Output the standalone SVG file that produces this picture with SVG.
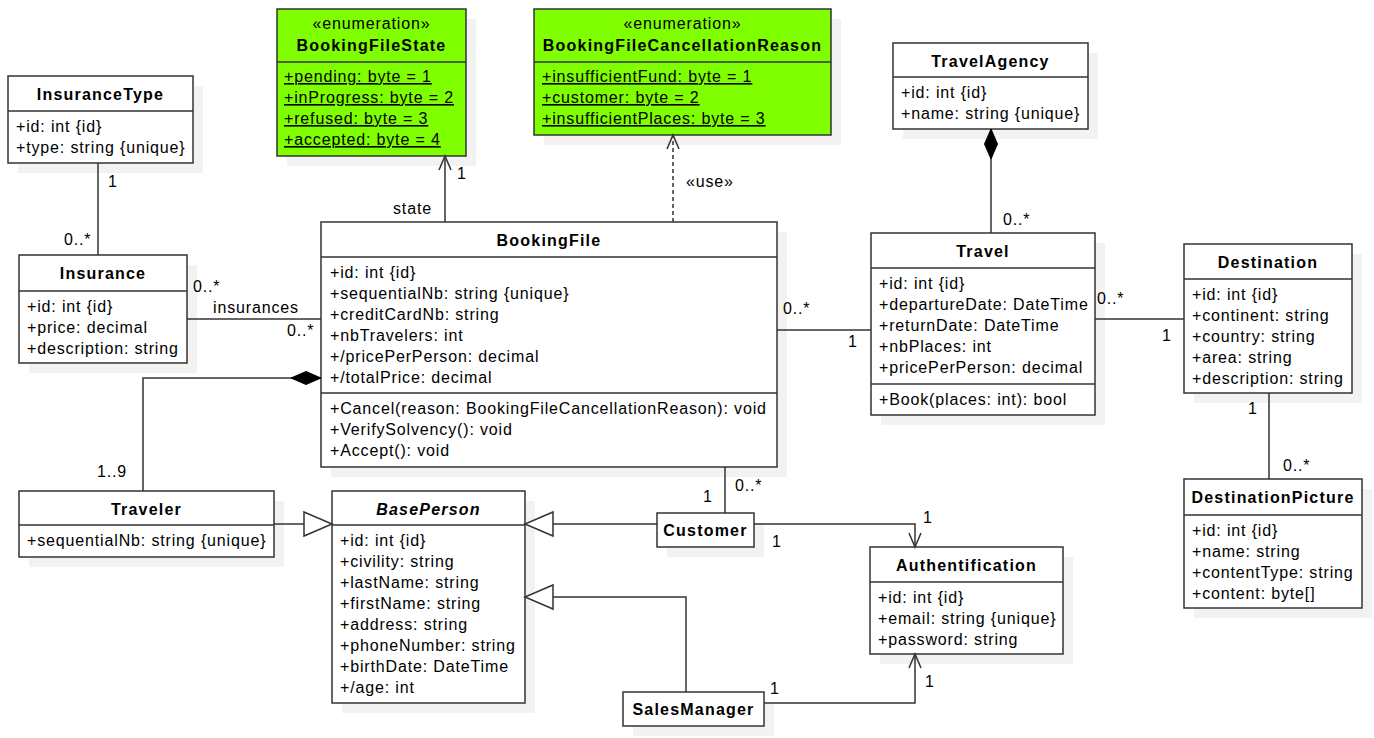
<svg xmlns="http://www.w3.org/2000/svg" width="1374" height="738" viewBox="0 0 1374 738">
<style>
.bg{fill:#fff}
.sh{fill:#f2f2f2}
.box{fill:#fff;stroke:#333;stroke-width:1.5}
.enum{fill:#80ff00;stroke:#333;stroke-width:1.5}
.div{stroke:#333;stroke-width:1.5}
text{font-family:"Liberation Sans",Arial,Helvetica,sans-serif;font-size:16px;fill:#000;letter-spacing:0.85px}
.ti{font-weight:bold;text-anchor:middle;letter-spacing:1.2px}
.it{font-style:italic}
.st{text-anchor:middle}
.u{text-decoration:underline}
.ln{stroke:#333;stroke-width:1.5;fill:none}
.dash{stroke-dasharray:4,3}
</style>
<defs>
<marker id="open" markerUnits="userSpaceOnUse" markerWidth="16" markerHeight="16" refX="14" refY="7" orient="auto" overflow="visible">
<path d="M0,1 L14,7 L0,13" fill="none" stroke="#333" stroke-width="1.5"/>
</marker>
<marker id="tri" markerUnits="userSpaceOnUse" markerWidth="30" markerHeight="26" refX="28" refY="12" orient="auto" overflow="visible">
<path d="M0,0 L28,12 L0,24 Z" fill="#fff" stroke="#333" stroke-width="1.5"/>
</marker>
<marker id="dia" markerUnits="userSpaceOnUse" markerWidth="32" markerHeight="14" refX="0" refY="6.5" orient="auto" overflow="visible">
<path d="M0,6.5 L15,0 L30,6.5 L15,13 Z" fill="#000" stroke="#000" stroke-width="1"/>
</marker>
</defs>
<rect class="bg" x="0" y="0" width="1374" height="738"/>

<g id="InsuranceType">
<rect class="sh" x="18" y="86" width="185" height="87"/>
<rect class="box" x="8" y="76" width="185" height="87"/>
<line class="div" x1="8" y1="111" x2="193" y2="111"/>
<text class="ti" x="100.5" y="100">InsuranceType</text>
<text x="16" y="132">+id: int {id}</text>
<text x="16" y="153">+type: string {unique}</text>
</g>

<g id="BookingFileState">
<rect class="sh" x="287" y="19" width="189" height="147"/>
<rect class="enum" x="277" y="9" width="189" height="147"/>
<line class="div" x1="277" y1="62" x2="466" y2="62"/>
<text class="st" x="371.5" y="29">«enumeration»</text>
<text class="ti" x="371.5" y="51">BookingFileState</text>
<text class="u" x="284" y="82">+pending: byte = 1</text>
<text class="u" x="284" y="103">+inProgress: byte = 2</text>
<text class="u" x="284" y="124">+refused: byte = 3</text>
<text class="u" x="284" y="145">+accepted: byte = 4</text>
</g>

<g id="BookingFileCancellationReason">
<rect class="sh" x="544" y="19" width="297" height="126"/>
<rect class="enum" x="534" y="9" width="297" height="126"/>
<line class="div" x1="534" y1="62" x2="831" y2="62"/>
<text class="st" x="682.5" y="29">«enumeration»</text>
<text class="ti" x="682.5" y="51">BookingFileCancellationReason</text>
<text class="u" x="542" y="82">+insufficientFund: byte = 1</text>
<text class="u" x="542" y="103">+customer: byte = 2</text>
<text class="u" x="542" y="124">+insufficientPlaces: byte = 3</text>
</g>

<g id="TravelAgency">
<rect class="sh" x="903" y="53" width="195" height="86"/>
<rect class="box" x="893" y="43" width="195" height="86"/>
<line class="div" x1="893" y1="77" x2="1088" y2="77"/>
<text class="ti" x="990.5" y="67">TravelAgency</text>
<text x="901" y="98">+id: int {id}</text>
<text x="901" y="119">+name: string {unique}</text>
</g>

<g id="Insurance">
<rect class="sh" x="29" y="265" width="168" height="108"/>
<rect class="box" x="19" y="255" width="168" height="108"/>
<line class="div" x1="19" y1="291" x2="187" y2="291"/>
<text class="ti" x="103" y="279">Insurance</text>
<text x="27" y="312">+id: int {id}</text>
<text x="27" y="333">+price: decimal</text>
<text x="27" y="354">+description: string</text>
</g>

<g id="BookingFile">
<rect class="sh" x="331" y="232" width="456" height="245"/>
<rect class="box" x="321" y="222" width="456" height="245"/>
<line class="div" x1="321" y1="257" x2="777" y2="257"/>
<line class="div" x1="321" y1="393" x2="777" y2="393"/>
<text class="ti" x="549" y="246">BookingFile</text>
<text x="330" y="278">+id: int {id}</text>
<text x="330" y="299">+sequentialNb: string {unique}</text>
<text x="330" y="320">+creditCardNb: string</text>
<text x="330" y="341">+nbTravelers: int</text>
<text x="330" y="362">+/pricePerPerson: decimal</text>
<text x="330" y="383">+/totalPrice: decimal</text>
<text x="330" y="414">+Cancel(reason: BookingFileCancellationReason): void</text>
<text x="330" y="435">+VerifySolvency(): void</text>
<text x="330" y="456">+Accept(): void</text>
</g>

<g id="Travel">
<rect class="sh" x="881" y="243" width="224" height="182"/>
<rect class="box" x="871" y="233" width="224" height="182"/>
<line class="div" x1="871" y1="268" x2="1095" y2="268"/>
<line class="div" x1="871" y1="384" x2="1095" y2="384"/>
<text class="ti" x="983" y="257">Travel</text>
<text x="879" y="289">+id: int {id}</text>
<text x="879" y="310">+departureDate: DateTime</text>
<text x="879" y="331">+returnDate: DateTime</text>
<text x="879" y="352">+nbPlaces: int</text>
<text x="879" y="373">+pricePerPerson: decimal</text>
<text x="879" y="405">+Book(places: int): bool</text>
</g>

<g id="Destination">
<rect class="sh" x="1194" y="254" width="168" height="149"/>
<rect class="box" x="1184" y="244" width="168" height="149"/>
<line class="div" x1="1184" y1="279" x2="1352" y2="279"/>
<text class="ti" x="1268" y="268">Destination</text>
<text x="1192" y="300">+id: int {id}</text>
<text x="1192" y="321">+continent: string</text>
<text x="1192" y="342">+country: string</text>
<text x="1192" y="363">+area: string</text>
<text x="1192" y="384">+description: string</text>
</g>

<g id="DestinationPicture">
<rect class="sh" x="1194" y="489" width="178" height="129"/>
<rect class="box" x="1184" y="479" width="178" height="129"/>
<line class="div" x1="1184" y1="515" x2="1362" y2="515"/>
<text class="ti" x="1273" y="503">DestinationPicture</text>
<text x="1192" y="536">+id: int {id}</text>
<text x="1192" y="557">+name: string</text>
<text x="1192" y="578">+contentType: string</text>
<text x="1192" y="599">+content: byte[]</text>
</g>

<g id="Traveler">
<rect class="sh" x="29" y="501" width="255" height="66"/>
<rect class="box" x="19" y="491" width="255" height="66"/>
<line class="div" x1="19" y1="525" x2="274" y2="525"/>
<text class="ti" x="146.5" y="515">Traveler</text>
<text x="27" y="546">+sequentialNb: string {unique}</text>
</g>

<g id="BasePerson">
<rect class="sh" x="342" y="501" width="193" height="212"/>
<rect class="box" x="332" y="491" width="193" height="212"/>
<line class="div" x1="332" y1="525" x2="525" y2="525"/>
<text class="ti it" x="428.5" y="515">BasePerson</text>
<text x="340" y="546">+id: int {id}</text>
<text x="340" y="567">+civility: string</text>
<text x="340" y="588">+lastName: string</text>
<text x="340" y="609">+firstName: string</text>
<text x="340" y="630">+address: string</text>
<text x="340" y="651">+phoneNumber: string</text>
<text x="340" y="672">+birthDate: DateTime</text>
<text x="340" y="693">+/age: int</text>
</g>

<g id="Customer">
<rect class="sh" x="667" y="523" width="97" height="34"/>
<rect class="box" x="657" y="513" width="97" height="34"/>
<text class="ti" x="705.5" y="536">Customer</text>
</g>

<g id="SalesManager">
<rect class="sh" x="633" y="702" width="141" height="34"/>
<rect class="box" x="623" y="692" width="141" height="34"/>
<text class="ti" x="693.5" y="715">SalesManager</text>
</g>

<g id="Authentification">
<rect class="sh" x="880" y="557" width="193" height="107"/>
<rect class="box" x="870" y="547" width="193" height="107"/>
<line class="div" x1="870" y1="582" x2="1063" y2="582"/>
<text class="ti" x="966.5" y="571">Authentification</text>
<text x="878" y="603">+id: int {id}</text>
<text x="878" y="624">+email: string {unique}</text>
<text x="878" y="645">+password: string</text>
</g>

<g id="connectors">
<path class="ln" d="M98,163 L98,255"/>
<text x="108" y="187">1</text>
<text x="64" y="245">0..*</text>

<path class="ln" d="M187,319 L321,319"/>
<text x="193" y="292">0..*</text>
<text x="213" y="313">insurances</text>
<text x="287" y="336">0..*</text>

<path class="ln" d="M445,222 L445,156" marker-end="url(#open)"/>
<text x="393" y="214">state</text>
<text x="457" y="179">1</text>

<path class="ln dash" d="M673,222 L673,135" marker-end="url(#open)"/>
<text x="686" y="187">«use»</text>

<path class="ln" d="M777,330 L871,330"/>
<text x="783" y="314">0..*</text>
<text x="848" y="347">1</text>

<path class="ln" d="M991,129 L991,233" marker-start="url(#dia)"/>
<text x="1003" y="225">0..*</text>

<path class="ln" d="M1095,319 L1184,319"/>
<text x="1097" y="304">0..*</text>
<text x="1162" y="341">1</text>

<path class="ln" d="M1269,393 L1269,479"/>
<text x="1248" y="414">1</text>
<text x="1283" y="471">0..*</text>

<path class="ln" d="M321,378 L143,378 L143,491" marker-start="url(#dia)"/>
<text x="97" y="477">1..9</text>

<path class="ln" d="M274,524 L332,524" marker-end="url(#tri)"/>
<path class="ln" d="M657,524 L525,524" marker-end="url(#tri)"/>
<path class="ln" d="M686,692 L686,597 L525,597" marker-end="url(#tri)"/>

<path class="ln" d="M725,467 L725,513"/>
<text x="703" y="502">1</text>
<text x="735" y="491">0..*</text>

<path class="ln" d="M754,524 L915,524 L915,547" marker-end="url(#open)"/>
<text x="772" y="547">1</text>
<text x="923" y="523">1</text>

<path class="ln" d="M764,703 L915,703 L915,654" marker-end="url(#open)"/>
<text x="770" y="694">1</text>
<text x="925" y="687">1</text>
</g>
</svg>
